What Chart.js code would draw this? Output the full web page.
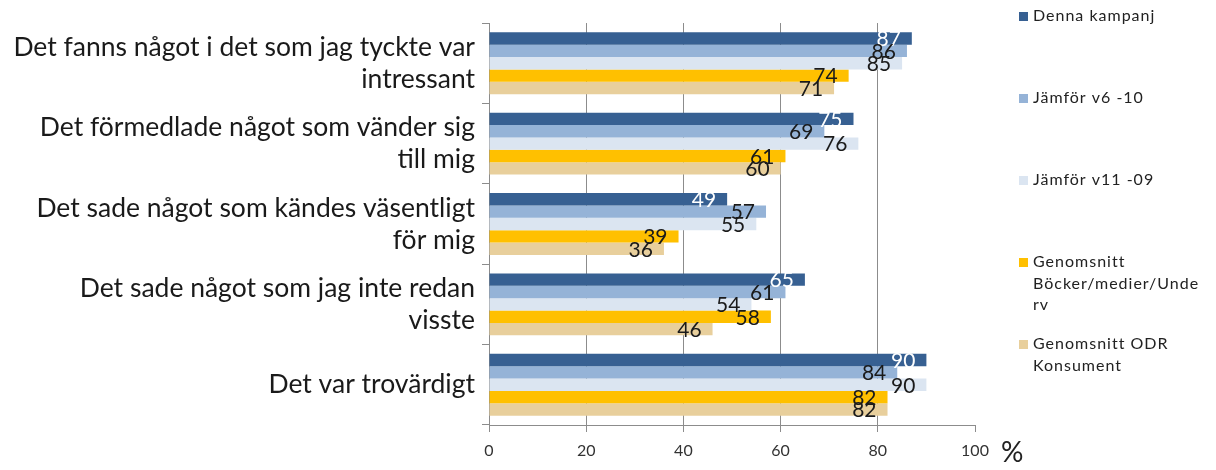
<!DOCTYPE html>
<html>
<head>
<meta charset="utf-8">
<script src="https://cdn.jsdelivr.net/npm/chart.js@4.4.1/dist/chart.umd.min.js"></script>
<style>
  html, body { margin: 0; padding: 0; background: #fff; }
  #wrap { width: 1216px; height: 470px; }
</style>
</head>
<body>
<div id="wrap"><canvas id="chart" width="1216" height="470"></canvas></div>
<script>
var categories = [
  ['Det fanns något i det som jag tyckte var', 'intressant'],
  ['Det förmedlade något som vänder sig', 'till mig'],
  ['Det sade något som kändes väsentligt', 'för mig'],
  ['Det sade något som jag inte redan', 'visste'],
  ['Det var trovärdigt']
];

var seriesNames = [
  'Denna kampanj',
  'Jämför v6 -10',
  'Jämför v11 -09',
  'Genomsnitt Böcker/medier/Underv',
  'Genomsnitt ODR Konsument'
];

// legend text as it wraps in the picture
var legendLines = [
  ['Denna kampanj'],
  ['Jämför v6 -10'],
  ['Jämför v11 -09'],
  ['Genomsnitt', 'Böcker/medier/Unde', 'rv'],
  ['Genomsnitt ODR', 'Konsument']
];

var dennaKampanj = [87, 75, 49, 65, 90];
var jamforV6 = [86, 69, 57, 61, 84];
var jamforV11 = [85, 76, 55, 54, 90];
var snittBocker = [74, 61, 39, 58, 82];
var snittOdr = [71, 60, 36, 46, 82];

var xTicks = [0, 20, 40, 60, 80, 100];

var colors = ['#376092', '#95b3d7', '#dbe5f1', '#ffc000', '#e8cf9c'];

var allSeries = [dennaKampanj, jamforV6, jamforV11, snittBocker, snittOdr];

var datasets = allSeries.map(function (values, i) {
  return {
    label: seriesNames[i],
    data: values,
    backgroundColor: colors[i],
    borderWidth: 0,
    barPercentage: 1.0,
    categoryPercentage: 0.77
  };
});

// value labels drawn just inside the end of each bar
var valueLabels = {
  id: 'valueLabels',
  afterDatasetsDraw: function (chart) {
    var ctx = chart.ctx;
    ctx.save();
    ctx.font = '21px Lato';
    ctx.textAlign = 'right';
    ctx.textBaseline = 'middle';
    chart.data.datasets.forEach(function (ds, i) {
      var meta = chart.getDatasetMeta(i);
      meta.data.forEach(function (bar, j) {
        ctx.fillStyle = i === 0 ? '#ffffff' : '#1a1a1a';
        ctx.fillText(ds.data[j], bar.x - 11, bar.y + 1);
      });
    });
    ctx.restore();
  }
};

// legend on the right, spaced out like the original
var sideLegend = {
  id: 'sideLegend',
  afterDraw: function (chart) {
    var ctx = chart.ctx;
    ctx.save();
    ctx.font = '16px Lato';
    ctx.letterSpacing = '1px';
    ctx.textBaseline = 'middle';
    for (var i = 0; i < legendLines.length; i++) {
      var y = 16 + i * 82;
      ctx.fillStyle = colors[i];
      ctx.fillRect(1019, y - 4, 9, 9);
      ctx.fillStyle = '#222';
      for (var k = 0; k < legendLines[i].length; k++) {
        ctx.fillText(legendLines[i][k], 1033, y + k * 21.5);
      }
    }
    ctx.letterSpacing = '0px';
    ctx.font = '28px Lato';
    ctx.textAlign = 'left';
    ctx.fillStyle = '#222';
    ctx.fillText('%', 1001, 453);
    ctx.restore();
  }
};

new Chart(document.getElementById('chart'), {
  type: 'bar',
  data: { labels: categories, datasets: datasets },
  plugins: [valueLabels, sideLegend],
  options: {
    indexAxis: 'y',
    responsive: false,
    animation: false,
    layout: { padding: { top: 20, right: 241, left: 0, bottom: 0 } },
    plugins: {
      legend: { display: false },
      tooltip: { enabled: false }
    },
    scales: {
      x: {
        min: 0,
        max: 100,
        afterBuildTicks: function (scale) {
          scale.ticks = xTicks.map(function (v) { return { value: v }; });
        },
        afterFit: function (scale) { scale.height = 45; },
        border: { color: '#8c8c8c', width: 1 },
        grid: {
          color: function (c) {
            return c.tick && c.tick.value === 100 ? 'rgba(0,0,0,0)' : '#8c8c8c';
          },
          tickColor: '#8c8c8c',
          tickLength: 7,
          lineWidth: 1
        },
        ticks: {
          color: '#333',
          font: { family: 'Lato', size: 16 },
          padding: 9
        }
      },
      y: {
        afterFit: function (scale) { scale.width = 489; },
        border: { color: '#8c8c8c', width: 1 },
        grid: {
          offset: true,
          drawOnChartArea: false,
          color: '#8c8c8c',
          tickLength: 7
        },
        ticks: {
          color: '#1a1a1a',
          font: { family: 'Lato', size: 26.5, lineHeight: 1.21 },
          padding: 7
        }
      }
    }
  }
});
</script>
</body>
</html>
